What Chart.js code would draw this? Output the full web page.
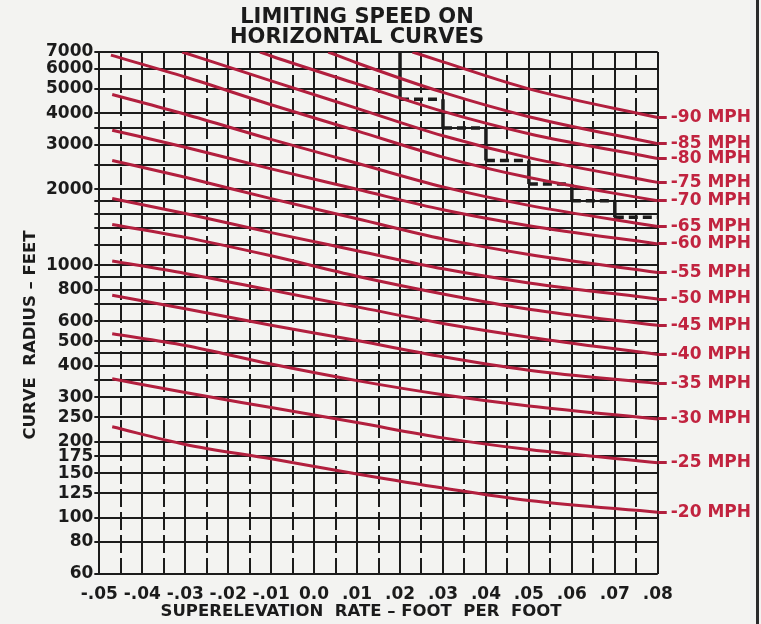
<!DOCTYPE html>
<html>
<head>
<meta charset="utf-8">
<title>Limiting speed on horizontal curves</title>
<script src="https://cdn.jsdelivr.net/npm/chart.js@4.4.1/dist/chart.umd.min.js"></script>
<style>
  html, body { margin: 0; padding: 0; background: #f3f3f1; }
  #wrap { position: relative; width: 761px; height: 624px; overflow: hidden; }
  #edge { position: absolute; left: 756px; top: 0; width: 3px; height: 624px; background: #2b2b2b; }
</style>
</head>
<body>
<div id="wrap">
  <canvas id="speed_chart" width="761" height="624"></canvas>
  <div id="edge"></div>
</div>
<script>
/*------------------------------*/
/*            DATA              */
/*------------------------------*/
var speeds = [20, 25, 30, 35, 40, 45, 50, 55, 60, 65, 70, 75, 80, 85, 90]

// where each curve begins (left side of grid, or where it comes in at the top)
var startX = [-0.047, -0.047, -0.047, -0.047, -0.047, -0.047, -0.047, -0.047, -0.047, -0.047, -0.0473, -0.0307, -0.0126, 0.0033, 0.0229]
var startR = [229, 355, 535, 760, 1040, 1450, 1840, 2600, 3430, 4750, 6800, 7000, 7000, 7000, 7000]

// curve radius (feet) read at these superelevation rates
var xs  = [-0.03, -0.01, 0.01, 0.03, 0.05, 0.08]
var r20 = [195, 171, 149, 131, 117, 105]
var r25 = [313, 273, 238, 207, 186, 165]
var r30 = [481, 406, 349, 307, 277, 246]
var r35 = [673, 578, 503, 434, 384, 340]
var r40 = [928, 797, 684, 588, 519, 443]
var r45 = [1290, 1090, 905, 770, 670, 578]
var r50 = [1603, 1347, 1142, 968, 851, 735]
var r55 = [2231, 1837, 1529, 1272, 1103, 936]
var r60 = [2936, 2410, 2000, 1659, 1434, 1215]
var r65 = [3965, 3153, 2538, 2044, 1727, 1424]
var r70 = [5570, 4328, 3407, 2683, 2226, 1800]
var r75 = [null, 5380, 4187, 3260, 2671, 2130]
var r80 = [null, 6750, 5230, 4070, 3320, 2650]
var r85 = [null, null, 6330, 4840, 3880, 3030]
var r90 = [null, null, null, 6400, 5000, 3850]
var radius = [r20, r25, r30, r35, r40, r45, r50, r55, r60, r65, r70, r75, r80, r85, r90]

// black dashed step line
var stepX = [0.02, 0.03, 0.04, 0.05, 0.06, 0.07, 0.08]
var stepR = [7000, 4550, 3500, 2600, 2100, 1800, 1550]

// axes
var yGrid = [7000, 6000, 5000, 4000, 3500, 3000, 2500, 2000, 1800, 1600, 1400, 1200, 1000, 900, 800, 700,
             600, 500, 450, 400, 350, 300, 250, 200, 175, 150, 125, 100, 80, 60]
var yLabels = [7000, 6000, 5000, 4000, 3000, 2000, 1000, 800, 600, 500, 400, 300, 250, 200, 175, 150, 125, 100, 80, 60]
var xGrid = []
for (var k = -50; k <= 80; k += 5) xGrid.push(k / 1000)

/*------------------------------*/
/*           STYLE              */
/*------------------------------*/
var INK = '#1b1b1b'
var RED = '#b21f3e'
var RED_TXT = '#c1233f'
var FONT = "'DejaVu Sans', sans-serif"

function xLabel(v) {
  var m = Math.round(v * 1000)
  if (m % 10 !== 0) return ''
  if (m === 0) return '0.0'
  var d = Math.abs(m / 10)
  return (m < 0 ? '-' : '') + '.0' + d
}

var endR = radius.map(function (r) { return r[r.length - 1] })

var datasets = speeds.map(function (s, i) {
  var pts = [{ x: startX[i], y: startR[i] }]
  xs.forEach(function (x, j) {
    if (radius[i][j] != null) pts.push({ x: x, y: radius[i][j] })
  })
  return {
    label: s + ' MPH',
    data: pts,
    borderColor: RED,
    borderWidth: 3,
    pointRadius: 0,
    cubicInterpolationMode: 'monotone',
    fill: false
  }
})

var stepV = [], stepH = []
for (var i = 1; i < stepX.length; i++) {
  stepV.push({ x: stepX[i - 1], y: stepR[i - 1] }, { x: stepX[i - 1], y: stepR[i] }, { x: stepX[i - 1], y: null })
  stepH.push({ x: stepX[i - 1], y: stepR[i] }, { x: stepX[i], y: stepR[i] }, { x: stepX[i], y: null })
}
datasets.push({ label: 'step', data: stepV, borderColor: INK, borderWidth: 3.5, pointRadius: 0, tension: 0 })
datasets.push({ label: 'step dashed', data: stepH, borderColor: INK, borderWidth: 3.5, borderDash: [9, 5], pointRadius: 0, tension: 0 })

// titles drawn as plain text
var titles = {
  id: 'titles',
  afterDraw: function (chart) {
    var c = chart.ctx
    c.save()
    c.fillStyle = INK
    c.textAlign = 'center'
    c.textBaseline = 'middle'
    c.font = 'bold 21px ' + FONT
    c.fillText('LIMITING SPEED ON', 357, 18)
    c.fillText('HORIZONTAL CURVES', 357, 38)
    c.font = 'bold 16.5px ' + FONT
    c.fillText('SUPERELEVATION  RATE \u2013 FOOT  PER  FOOT', 361, 612)
    c.translate(31, 335)
    c.rotate(-Math.PI / 2)
    c.fillText('CURVE  RADIUS \u2013 FEET', 0, 0)
    c.restore()
  }
}

var ctx_speed = document.getElementById('speed_chart').getContext('2d')
var config_speed = {
  type: 'line',
  data: { datasets: datasets },
  options: {
    responsive: false,
    animation: false,
    layout: { padding: { top: 52, left: 45, right: 6, bottom: 8 } },
    plugins: {
      legend: { display: false },
      tooltip: { enabled: false }
    },
    scales: {
      x: {
        type: 'linear',
        min: -0.05,
        max: 0.08,
        afterBuildTicks: function (s) { s.ticks = xGrid.map(function (v) { return { value: v } }) },
        ticks: {
          autoSkip: false, maxRotation: 0, padding: 11, color: INK,
          font: { family: FONT, size: 17, weight: 'bold' },
          callback: function (v) { return xLabel(v) }
        },
        grid: { color: INK, lineWidth: 2, drawTicks: false },
        border: {
          display: false,
          dash: function (c) {
            if (!c.tick) return []
            return Math.round(c.tick.value * 1000) % 10 !== 0 ? [18, 5] : []
          }
        }
      },
      y: {
        type: 'logarithmic',
        position: 'left',
        min: 60,
        max: 7000,
        afterBuildTicks: function (s) { s.ticks = yGrid.map(function (v) { return { value: v } }) },
        ticks: {
          autoSkip: false, padding: 1, color: INK,
          font: { family: FONT, size: 17, weight: 'bold' },
          callback: function (v) { return yLabels.indexOf(v) >= 0 ? String(v) : '' }
        },
        grid: { color: INK, lineWidth: 2, tickLength: 5 },
        border: { display: false }
      },
      y2: {
        type: 'logarithmic',
        position: 'right',
        min: 60,
        max: 7000,
        afterBuildTicks: function (s) { s.ticks = endR.map(function (v) { return { value: v } }) },
        ticks: {
          autoSkip: false, padding: 4, color: RED_TXT,
          font: { family: FONT, size: 17, weight: 'bold' },
          callback: function (v, i) { return '-' + speeds[i] + ' MPH' }
        },
        grid: { drawOnChartArea: false, color: RED, lineWidth: 3, tickLength: 9 },
        border: { display: false }
      }
    }
  },
  plugins: [titles]
}
var speed_chart = new Chart(ctx_speed, config_speed)
</script>
</body>
</html>
